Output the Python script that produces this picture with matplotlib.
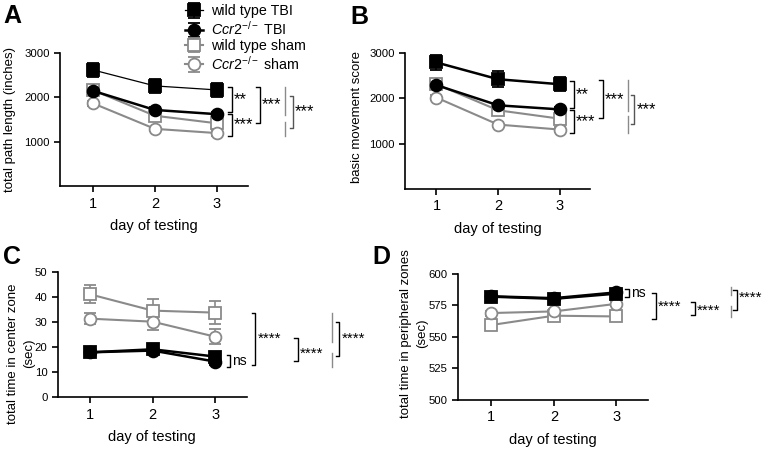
import numpy as np
import matplotlib.pyplot as plt

plt.rcParams['font.family'] = ['Liberation Sans', 'DejaVu Sans']
plt.rcParams['mathtext.fontset'] = 'custom'
plt.rcParams['mathtext.rm'] = 'Liberation Sans'
plt.rcParams['mathtext.it'] = 'Liberation Sans:italic'

# data
days = [1, 2, 3]
groups = ['wild type TBI', r'$\it{Ccr2}^{-/-}$ TBI', 'wild type sham', r'$\it{Ccr2}^{-/-}$ sham']

path_mean = {'wt_tbi': [2620, 2260, 2170], 'ko_tbi': [2150, 1720, 1625],
             'wt_sham': [2165, 1590, 1420], 'ko_sham': [1870, 1295, 1200]}
path_err = {'wt_tbi': [150, 160, 150], 'ko_tbi': [60, 60, 60],
            'wt_sham': [80, 70, 100], 'ko_sham': [50, 50, 60]}

move_mean = {'wt_tbi': [2790, 2420, 2310], 'ko_tbi': [2290, 1845, 1755],
             'wt_sham': [2310, 1735, 1550], 'ko_sham': [2015, 1420, 1310]}
move_err = {'wt_tbi': [170, 180, 150], 'ko_tbi': [60, 60, 60],
            'wt_sham': [80, 70, 100], 'ko_sham': [50, 50, 60]}

center_mean = {'wt_tbi': [17.9, 19.1, 16.2], 'ko_tbi': [17.9, 18.6, 14.2],
               'wt_sham': [41.0, 34.5, 33.7], 'ko_sham': [31.3, 30.1, 24.1]}
center_err = {'wt_tbi': [1.6, 1.6, 1.6], 'ko_tbi': [1.5, 1.5, 1.4],
              'wt_sham': [3.5, 4.5, 4.5], 'ko_sham': [2.3, 3.5, 3.0]}

periph_mean = {'wt_tbi': [582.0, 580.3, 584.4], 'ko_tbi': [582.3, 580.8, 585.4],
               'wt_sham': [559.5, 566.9, 566.3], 'ko_sham': [569.0, 570.3, 576.3]}
periph_err = {'wt_tbi': [1.8, 1.8, 1.8], 'ko_tbi': [1.6, 1.6, 1.6],
              'wt_sham': [2.0, 2.0, 2.0], 'ko_sham': [2.0, 2.0, 2.0]}

gray = '#8a8a8a'
styles = {
    'wt_tbi': dict(color='black', marker='s', mfc='black', mec='black', lw=1.8),
    'ko_tbi': dict(color='black', marker='o', mfc='black', mec='black', lw=1.8),
    'wt_sham': dict(color=gray, marker='s', mfc='white', mec=gray, lw=1.5),
    'ko_sham': dict(color=gray, marker='o', mfc='white', mec=gray, lw=1.5),
}
order = ['wt_sham', 'ko_sham', 'wt_tbi', 'ko_tbi']
legend_order = ['wt_tbi', 'ko_tbi', 'wt_sham', 'ko_sham']

fig = plt.figure(figsize=(7.71, 4.51), dpi=100)
axA = fig.add_axes([0.0778, 0.5865, 0.2438, 0.296])
axB = fig.add_axes([0.5253, 0.581, 0.240, 0.3016])
axC = fig.add_axes([0.0752, 0.1191, 0.2447, 0.2785])
axD = fig.add_axes([0.5944, 0.1131, 0.2464, 0.2794])


def draw(ax, means, errs, thin_wt=False):
    handles = {}
    for key in order:
        st = dict(styles[key])
        if thin_wt and key == 'wt_tbi':
            st['lw'] = 0.9
        h = ax.errorbar(days, means[key], yerr=errs[key], ms=8.5, mew=1.3,
                        capsize=4, elinewidth=1.2, capthick=1.2, **st)
        handles[key] = h
    for s in ['top', 'right']:
        ax.spines[s].set_visible(False)
    ax.spines['left'].set_linewidth(1.2)
    ax.spines['bottom'].set_linewidth(1.2)
    ax.set_xticks(days)
    ax.tick_params(axis='x', labelsize=10.5, length=4, width=1.2)
    ax.tick_params(axis='y', labelsize=8.2, length=4, width=1.2)
    ax.set_xlabel('day of testing', fontsize=10.5, labelpad=6)
    return handles


def bracket(ax, x, y0, y1, text='', color='black', tick=0.06, fs=12, ty=None):
    ax.plot([x - tick, x, x, x - tick], [y0, y0, y1, y1], color=color,
            lw=1, clip_on=False)
    if text:
        ax.text(x + 0.03, (y0 + y1) / 2 if ty is None else ty, text,
                fontsize=fs, va='center', ha='left', clip_on=False)


def vline(ax, x, y0, y1):
    ax.plot([x, x], [y0, y1], color=gray, lw=1, clip_on=False)


ylab_kw = dict(fontsize=9.5, linespacing=1.45)

# A
hA = draw(axA, path_mean, path_err, thin_wt=True)
axA.set_xlim(0.47, 3.5)
axA.set_ylim(0, 3000)
axA.set_yticks([1000, 2000, 3000])
axA.set_ylabel('total path length (inches)', **ylab_kw)
axA.yaxis.set_label_coords(-0.234, 0.5)
bracket(axA, 3.24, 2243, 1674, '**')
bracket(axA, 3.24, 1629, 1142, '***')
bracket(axA, 3.69, 2243, 1427, '***')
vline(axA, 4.10, 2243, 1607)
vline(axA, 4.10, 1449, 1135)
bracket(axA, 4.23, 2034, 1315, '***', color='#555555')

# B
draw(axB, move_mean, move_err)
axB.set_xlim(0.49, 3.49)
axB.set_ylim(0, 3000)
axB.set_yticks([1000, 2000, 3000])
axB.set_ylabel('basic movement score', **ylab_kw)
axB.yaxis.set_label_coords(-0.225, 0.53)
bracket(axB, 3.225, 2378, 1778, '**')
bracket(axB, 3.225, 1733, 1244, '***')
bracket(axB, 3.696, 2400, 1556, '***')
vline(axB, 4.10, 2400, 1711)
vline(axB, 4.10, 1600, 1244)
bracket(axB, 4.21, 2067, 1422, '***', color='#555555')

# C
draw(axC, center_mean, center_err)
axC.set_xlim(0.49, 3.5)
axC.set_ylim(0, 50)
axC.set_yticks([0, 10, 20, 30, 40, 50])
axC.set_ylabel('total time in center zone\n(sec)', **ylab_kw)
axC.yaxis.set_label_coords(-0.12, 0.35)
bracket(axC, 3.24, 16.8, 12.2, 'ns', fs=10)
bracket(axC, 3.64, 33.4, 12.9, '****', fs=11)
bracket(axC, 4.32, 23.5, 14.6, '****', fs=11, ty=17.5)
vline(axC, 4.86, 33.4, 22.1)
vline(axC, 4.86, 17.5, 12.2)
bracket(axC, 4.98, 30.1, 16.4, '****', fs=11)

# D
draw(axD, periph_mean, periph_err)
axD.set_xlim(0.47, 3.51)
axD.set_ylim(500, 600)
axD.set_yticks([500, 525, 550, 575, 600])
axD.set_ylabel('total time in peripheral zones\n(sec)', **ylab_kw)
axD.yaxis.set_label_coords(-0.16, 0.528)
bracket(axD, 3.20, 587.9, 581.5, 'ns', fs=10)
bracket(axD, 3.63, 584.7, 564.0, '****', fs=11, ty=574.0)
bracket(axD, 4.25, 578.0, 567.5, '****', fs=11, ty=570.5)
vline(axD, 4.84, 589.4, 583.3)
vline(axD, 4.84, 574.6, 566.1)
bracket(axD, 4.93, 587.3, 571.4, '****', fs=11, ty=581.0)

# legend
fig.legend([hA[k] for k in legend_order], groups, loc='upper left',
           bbox_to_anchor=(0.233, 1.003), frameon=False, fontsize=10.3,
           handlelength=1.25, handletextpad=0.55, labelspacing=0.1,
           borderaxespad=0)

# panel letters
for lab, x, y in [('A', 0.004, 0.992), ('B', 0.455, 0.988),
                  ('C', 0.004, 0.457), ('D', 0.483, 0.457)]:
    fig.text(x, y, lab, fontsize=18, fontweight='bold', va='top', ha='left')

fig.savefig('out.png', dpi=100)
